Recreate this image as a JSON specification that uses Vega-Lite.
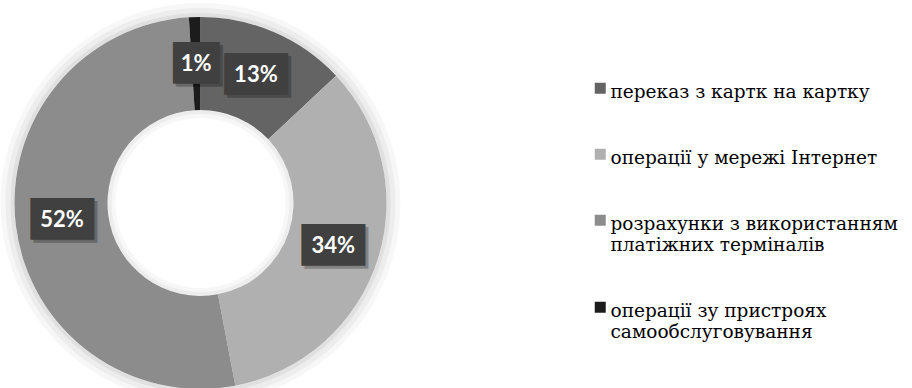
{
  "$schema": "https://vega.github.io/schema/vega-lite/v6.json",
  "width": 399,
  "height": 406,
  "padding": 0,
  "background": "white",
  "config": {"view": {"stroke": null}},
  "data": {"values": [
    {"category": "переказ з картк на картку", "value": 13, "order": 1},
    {"category": "операції у мережі Інтернет", "value": 34, "order": 2},
    {"category": "розрахунки з використанням|платіжних терміналів", "value": 52, "order": 3},
    {"category": "операції зу пристроях|самообслуговування", "value": 1, "order": 4}
  ]},
  "transform": [
    {"calculate": "datum.value + '%'", "as": "label"},
    {"calculate": "datum.value < 10 ? '▕██▏' : '███'", "as": "box"}
  ],
  "layer": [
    {
      "transform": [{"aggregate": [{"op": "sum", "field": "value", "as": "value"}]}],
      "mark": {"type": "arc", "outerRadius": 200, "innerRadius": 186, "color": "#000", "opacity": 0.03},
      "encoding": {"theta": {"field": "value", "type": "quantitative", "stack": true}}
    },
    {
      "transform": [{"aggregate": [{"op": "sum", "field": "value", "as": "value"}]}],
      "mark": {"type": "arc", "outerRadius": 195, "innerRadius": 186, "color": "#000", "opacity": 0.04},
      "encoding": {"theta": {"field": "value", "type": "quantitative", "stack": true}}
    },
    {
      "transform": [{"aggregate": [{"op": "sum", "field": "value", "as": "value"}]}],
      "mark": {"type": "arc", "outerRadius": 190, "innerRadius": 186, "color": "#000", "opacity": 0.05},
      "encoding": {"theta": {"field": "value", "type": "quantitative", "stack": true}}
    },
    {
      "mark": {"type": "arc", "outerRadius": 186, "innerRadius": 93},
      "encoding": {
        "theta": {"field": "value", "type": "quantitative", "stack": true},
        "order": {"field": "order"},
        "color": {
          "field": "category",
          "type": "nominal",
          "sort": {"field": "order"},
          "scale": {"range": ["#646464", "#b0b0b0", "#8c8c8c", "#1c1c1c"]},
          "legend": {
            "orient": "none",
            "legendX": 590,
            "legendY": 89,
            "title": null,
            "padding": 0,
            "symbolType": "M-1,-2.82H1V-0.82H-1Z",
            "symbolSize": 121,
            "symbolStrokeWidth": 0,
            "labelFont": "DejaVu Serif",
            "labelFontSize": 18.5,
            "labelColor": "#000",
            "labelBaseline": "alphabetic",
            "labelLimit": 0,
            "labelOffset": 1,
            "rowPadding": 46,
            "labelExpr": "split(datum.label, '|')"
          }
        }
      }
    },
    {
      "transform": [{"aggregate": [{"op": "sum", "field": "value", "as": "value"}]}],
      "mark": {"type": "arc", "outerRadius": 93, "innerRadius": 85, "color": "#000", "opacity": 0.03},
      "encoding": {"theta": {"field": "value", "type": "quantitative", "stack": true}}
    },
    {
      "transform": [{"aggregate": [{"op": "sum", "field": "value", "as": "value"}]}],
      "mark": {"type": "arc", "outerRadius": 93, "innerRadius": 89, "color": "#000", "opacity": 0.04},
      "encoding": {"theta": {"field": "value", "type": "quantitative", "stack": true}}
    },
    {
      "mark": {"type": "text", "radius": 139.5, "font": "DejaVu Sans Mono", "fontSize": 35, "align": "center", "baseline": "middle", "dx": 3, "dy": 3, "color": "#000", "opacity": 0.25},
      "encoding": {
        "theta": {"field": "value", "type": "quantitative", "stack": true},
        "order": {"field": "order"},
        "text": {"field": "box"}
      }
    },
    {
      "mark": {"type": "text", "radius": 139.5, "font": "DejaVu Sans Mono", "fontSize": 35, "align": "center", "baseline": "middle", "color": "#404040"},
      "encoding": {
        "theta": {"field": "value", "type": "quantitative", "stack": true},
        "order": {"field": "order"},
        "text": {"field": "box"}
      }
    },
    {
      "mark": {"type": "text", "radius": 139.5, "font": "Lato", "fontWeight": "bold", "fontSize": 22, "align": "center", "baseline": "middle", "color": "#ffffff"},
      "encoding": {
        "theta": {"field": "value", "type": "quantitative", "stack": true},
        "order": {"field": "order"},
        "text": {"field": "label"}
      }
    }
  ]
}
